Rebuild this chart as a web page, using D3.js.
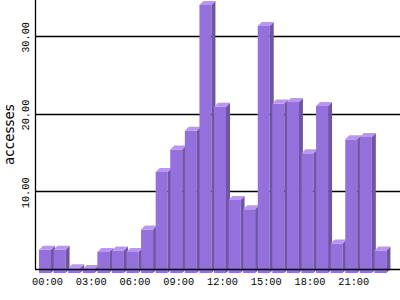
<!DOCTYPE html>
<html>
<head>
<meta charset="utf-8">
<script src="https://cdn.jsdelivr.net/npm/d3@7"></script>
<style>
  body { margin: 0; background: #fff; }
  svg { display: block; }
</style>
</head>
<body>
<script>
var hours = ["00:00", "01:00", "02:00", "03:00", "04:00", "05:00", "06:00", "07:00",
    "08:00", "09:00", "10:00", "11:00", "12:00", "13:00", "14:00", "15:00",
    "16:00", "17:00", "18:00", "19:00", "20:00", "21:00", "22:00", "23:00"];
var accesses = [3.0, 3.0, 0.6, 0.5, 2.7, 2.9, 2.7, 5.6,
    13.0, 15.9, 18.3, 34.5, 21.4, 9.4, 8.2, 31.8,
    21.8, 22.0, 15.4, 21.5, 3.8, 17.2, 17.5, 2.9];
var yTicks = [10, 20, 30];
var xLabels = ["00:00", "03:00", "06:00", "09:00", "12:00", "15:00", "18:00", "21:00"];

var width = 400;
var height = 300;
var depth = 4;      // 3d offset
var barWidth = 12;

var svg = d3.select("body").append("svg")
    .attr("width", width)
    .attr("height", height);

var x = d3.scaleBand()
    .domain(hours)
    .range([39, 389]);

// front face scale, back wall is shifted up by depth
var y = d3.scaleLinear()
    .domain([0, 10])
    .range([273, 195.3]);

// gridlines on the back wall
svg.selectAll("line.grid")
    .data(yTicks)
    .enter()
    .append("line")
    .attr("class", "grid")
    .attr("x1", 36)
    .attr("x2", width)
    .attr("y1", function(d) { return Math.round(y(d) - depth) + 0.5; })
    .attr("y2", function(d) { return Math.round(y(d) - depth) + 0.5; })
    .attr("stroke", "#000")
    .attr("stroke-width", 1.3);

var bars = svg.selectAll("g.bar")
    .data(accesses)
    .enter()
    .append("g")
    .attr("class", "bar");

// front
bars.append("rect")
    .attr("x", function(d, i) { return x(hours[i]); })
    .attr("y", function(d) { return y(d); })
    .attr("width", barWidth)
    .attr("height", function(d) { return y(0) - y(d); })
    .attr("fill", "#9370db");

// side
bars.append("polygon")
    .attr("points", function(d, i) {
        var x0 = x(hours[i]) + barWidth;
        return [[x0, y(d)], [x0 + depth, y(d) - depth], [x0 + depth, y(0) - depth], [x0, y(0)]].join(" ");
    })
    .attr("fill", "#6e55a6");

// top
bars.append("polygon")
    .attr("points", function(d, i) {
        var x0 = x(hours[i]);
        return [[x0, y(d)], [x0 + depth, y(d) - depth], [x0 + barWidth + depth, y(d) - depth], [x0 + barWidth, y(d)]].join(" ");
    })
    .attr("fill", "#ba95f7");

// axes lines
svg.append("line")
    .attr("x1", 35.5).attr("x2", 35.5)
    .attr("y1", 0).attr("y2", y(0) - depth)
    .attr("stroke", "#000")
    .attr("stroke-width", 1.3);

svg.append("line")
    .attr("x1", 35).attr("x2", width)
    .attr("y1", y(0) - depth + 0.5).attr("y2", y(0) - depth + 0.5)
    .attr("stroke", "#000")
    .attr("stroke-width", 1.3);

// y tick labels
svg.selectAll("text.ytick")
    .data(yTicks)
    .enter()
    .append("text")
    .attr("class", "ytick")
    .attr("transform", function(d) {
        return "translate(28.5," + (y(d) - depth + 1.5) + ") rotate(-90)";
    })
    .attr("text-anchor", "middle")
    .attr("font-family", "Liberation Mono, monospace")
    .attr("font-size", "10.3px")
    .text(function(d) { return d.toFixed(2); });

// x labels
svg.selectAll("text.xtick")
    .data(xLabels)
    .enter()
    .append("text")
    .attr("class", "xtick")
    .attr("x", function(d) { return x(d) + 8.5; })
    .attr("y", 284.5)
    .attr("text-anchor", "middle")
    .attr("font-family", "Liberation Mono, monospace")
    .attr("font-size", "10.3px")
    .text(function(d) { return d; });

// axis title
svg.append("text")
    .attr("transform", "translate(14,134.5) rotate(-90)")
    .attr("text-anchor", "middle")
    .attr("font-family", "DejaVu Sans, sans-serif")
    .attr("font-size", "13.5px")
    .text("accesses");
</script>
</body>
</html>
